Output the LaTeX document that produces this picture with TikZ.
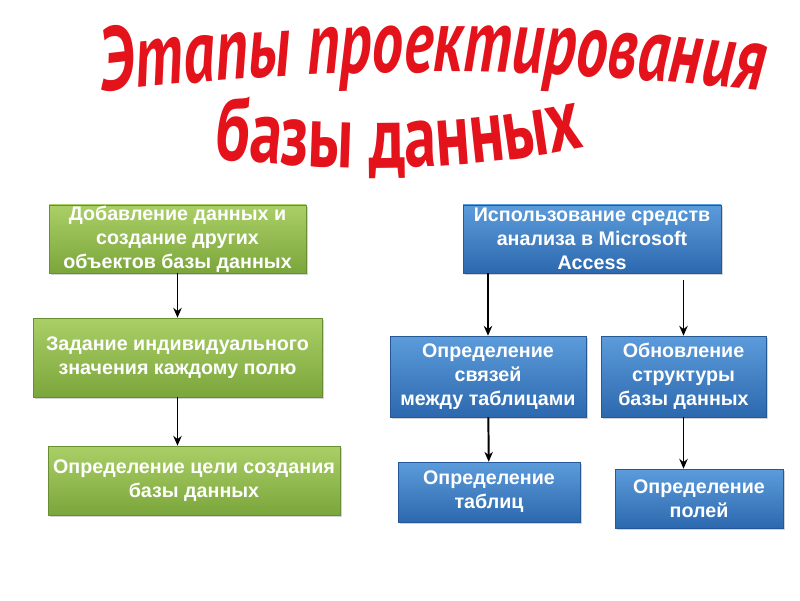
\documentclass[tikz,border=0pt]{standalone}
\usepackage{fontspec}
\setmainfont{Liberation Sans}
\newfontfamily\titlefont[FakeStretch=0.70]{PT Sans}
\newfontfamily\titlefontb[FakeStretch=0.715]{PT Sans}
\usetikzlibrary{shadows,decorations.text,arrows.meta}
\definecolor{greentop}{HTML}{AACF66}
\definecolor{greenbot}{HTML}{7BA63B}
\definecolor{bluetop}{HTML}{5C9CDB}
\definecolor{bluebot}{HTML}{2C68AE}
\definecolor{titlered}{HTML}{E3121B}
\begin{document}
\begin{tikzpicture}[>={Stealth[length=7pt,width=6pt]},
  every node/.style={font=\bfseries\fontsize{14}{17}\selectfont,text=white,align=center},
  greenbox/.style={rectangle,draw=greenbot!85!black,line width=0.4pt,top color=greentop,bottom color=greenbot,drop shadow={shadow xshift=1.5pt,shadow yshift=-1.5pt,opacity=0.35},inner sep=0pt},
  bluebox/.style={rectangle,draw=bluebot!85!black,line width=0.4pt,top color=bluetop,bottom color=bluebot,drop shadow={shadow xshift=1.5pt,shadow yshift=-1.5pt,opacity=0.35},inner sep=0pt},
  arr/.style={->,line width=1.4pt}]
\useasboundingbox (0,0) rectangle (20,15);
\path[decorate,decoration={text along path,text align=center,
  text={|\titlefont\bfseries\itshape\fontsize{64}{64}\selectfont\color{titlered}|Этапы проектирования}}]
  (2.375,12.675) .. controls (8,13.375) and (13.625,13.375) .. (19.25,12.7);
\path[decorate,decoration={text along path,text align=center,
  text={|\titlefontb\bfseries\fontsize{64}{64}\selectfont\color{titlered}|базы данных}}]
  (5.325,11.05) .. controls (8.425,10.675) and (11.525,10.675) .. (14.625,11.325);
\node[greenbox,minimum width=6.425cm,minimum height=1.7cm] (L1) at (4.4375,9.025) {Добавление данных и\\создание других\\объектов базы данных};
\node[greenbox,minimum width=7.225cm,minimum height=1.975cm] (L2) at (4.4375,6.0625) {Задание индивидуального\\значения каждому полю};
\node[greenbox,minimum width=7.3cm,minimum height=1.725cm] (L3) at (4.85,2.9875) {Определение цели создания\\базы данных};
\node[bluebox,minimum width=6.45cm,minimum height=1.7cm] (R0) at (14.8,9.025) {Использование средств\\анализа в Microsoft\\Access};
\node[bluebox,minimum width=4.9cm,minimum height=2.025cm] (RL) at (12.2,5.5875) {Определение\\связей\\между таблицами};
\node[bluebox,minimum width=4.125cm,minimum height=2.025cm] (RR) at (17.0875,5.5875) {Обновление\\структуры\\базы данных};
\node[bluebox,minimum width=4.55cm,minimum height=1.5cm] (RLB) at (12.225,2.7) {Определение\\таблиц};
\node[bluebox,minimum width=4.2cm,minimum height=1.475cm] (RRB) at (17.475,2.5375) {Определение\\полей};
\draw[arr] (L1) -- (L2);
\draw[arr] (L2.south) -- (L2.south |- L3.north);
\draw[arr] (RL.north |- R0.south) -- (RL.north);
\draw[arr,shorten <=5pt] (RR.north |- R0.south) -- (RR.north);
\draw[arr] (RL) -- (RLB);
\draw[arr] (RR.south) -- (RR.south |- RRB.north);
\end{tikzpicture}
\end{document}
